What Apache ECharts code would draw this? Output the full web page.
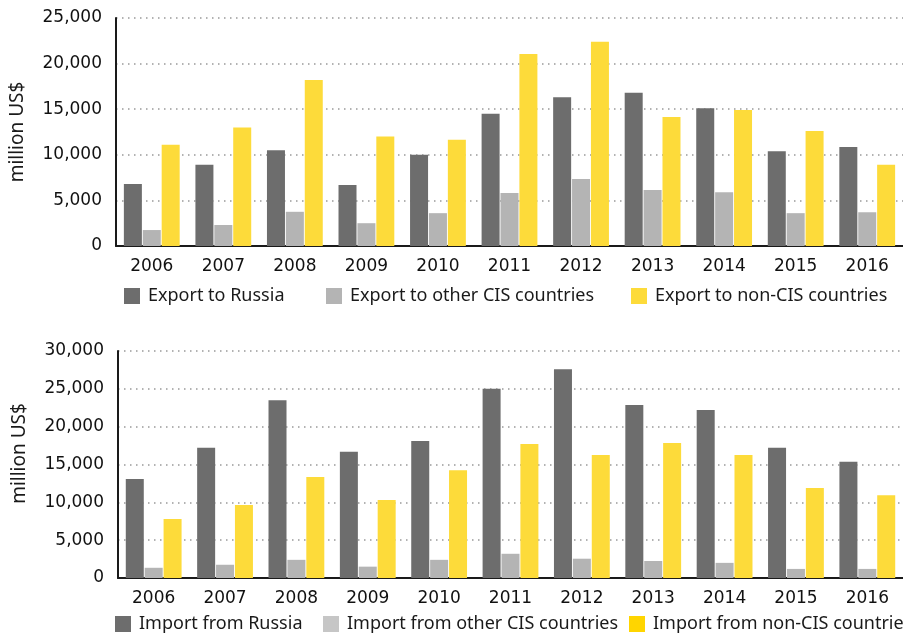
<!DOCTYPE html>
<html>
<head>
<meta charset="utf-8">
<script src="https://cdn.jsdelivr.net/npm/echarts@6/dist/echarts.min.js"></script>
<style>
  html, body { margin: 0; padding: 0; background: #fff; }
  #chart { width: 903px; height: 633px; }
</style>
</head>
<body>
<div id="chart"></div>
<script>
// data (million US$)
const years = ['2006', '2007', '2008', '2009', '2010', '2011', '2012', '2013', '2014', '2015', '2016'];

const exportRussia = [6800, 8900, 10500, 6700, 10000, 14500, 16300, 16800, 15100, 10400, 10850];
const exportOtherCis = [1750, 2300, 3750, 2500, 3600, 5800, 7350, 6150, 5900, 3600, 3700];
const exportNonCis = [11100, 13000, 18200, 12000, 11650, 21050, 22400, 14150, 14900, 12600, 8900];

const importRussia = [13100, 17200, 23500, 16700, 18100, 25000, 27600, 22850, 22200, 17200, 15350];
const importOtherCis = [1350, 1750, 2400, 1500, 2400, 3200, 2550, 2250, 2000, 1200, 1200];
const importNonCis = [7800, 9650, 13350, 10300, 14250, 17700, 16250, 17850, 16250, 11900, 10950];

const DARK = '#6d6d6d';
const LIGHT = '#b4b4b4';
const YELLOW = '#fddb3a';

const chart = echarts.init(document.getElementById('chart'));

// shared axis styles
function xAxisFor(gridIndex) {
  return {
    type: 'category',
    gridIndex: gridIndex,
    data: years,
    axisLine: { lineStyle: { color: '#1a1a1a', width: 2 } },
    axisTick: { inside: true, length: 5, lineStyle: { color: '#1a1a1a', width: 2 } },
    axisLabel: { color: '#111', fontSize: 17, fontFamily: 'DejaVu Sans', margin: 12 },
  };
}
function yAxisFor(gridIndex, max, namePad) {
  return {
    type: 'value',
    gridIndex: gridIndex,
    min: 0,
    max: max,
    interval: 5000,
    name: 'million US$',
    nameLocation: 'middle',
    nameRotate: 90,
    nameGap: 89,
    nameTextStyle: { color: '#1a1a1a', fontSize: 19, fontFamily: 'Noto Sans', padding: namePad },
    axisLine: { show: true, lineStyle: { color: '#1a1a1a', width: 2 } },
    axisTick: { show: false },
    axisLabel: {
      color: '#111', fontSize: 17, fontFamily: 'DejaVu Sans', margin: 14,
      formatter: (v) => v.toLocaleString('en-US'),
    },
    splitLine: { lineStyle: { color: '#999', width: 1.5, type: [1.5, 4.5] } },
  };
}
function barSeries(name, data, color, idx) {
  return {
    name: name,
    type: 'bar',
    xAxisIndex: idx,
    yAxisIndex: idx,
    data: data,
    barWidth: 18,
    barGap: '5%',
    itemStyle: { color: color },
  };
}
function legendItem(name, color, left, top) {
  return {
    data: [{ name: name, itemStyle: { color: color } }],
    left: left,
    top: top,
    padding: 0,
    itemWidth: 16,
    itemHeight: 16,
    icon: 'rect',
    selectedMode: false,
    textStyle: { color: '#1a1a1a', fontSize: 18, fontFamily: 'Noto Sans', padding: [0, 0, 0, 3] },
  };
}

const option = {
  animation: false,
  grid: [
    { left: 116, top: 18, height: 228, right: 0 },
    { left: 118, top: 351, height: 227, right: 0 },
  ],
  xAxis: [xAxisFor(0), xAxisFor(1)],
  yAxis: [yAxisFor(0, 25000, [0, 0, 0, 0]), yAxisFor(1, 30000, [0, 0, 0, 22])],
  legend: [
    legendItem('Export to Russia', DARK, 124, 287),
    legendItem('Export to other CIS countries', LIGHT, 326, 287),
    legendItem('Export to non-CIS countries', YELLOW, 631, 287),
    legendItem('Import from Russia', DARK, 115, 615),
    legendItem('Import from other CIS countries', '#c6c6c6', 323, 615),
    legendItem('Import from non-CIS countries', '#ffd500', 629, 615),
  ],
  series: [
    barSeries('Export to Russia', exportRussia, DARK, 0),
    barSeries('Export to other CIS countries', exportOtherCis, LIGHT, 0),
    barSeries('Export to non-CIS countries', exportNonCis, YELLOW, 0),
    barSeries('Import from Russia', importRussia, DARK, 1),
    barSeries('Import from other CIS countries', importOtherCis, LIGHT, 1),
    barSeries('Import from non-CIS countries', importNonCis, YELLOW, 1),
  ],
};

chart.setOption(option);
</script>
</body>
</html>
